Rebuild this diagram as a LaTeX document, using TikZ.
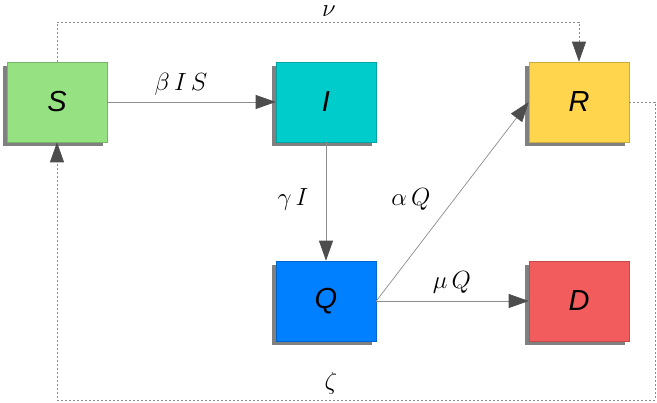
\documentclass[tikz,border=0pt]{standalone}
\usepackage{fontspec}
\newfontfamily\boxfont{Liberation Sans}
\usetikzlibrary{arrows.meta,shadows}
\definecolor{cS}{RGB}{150,226,131}
\definecolor{cI}{RGB}{0,204,204}
\definecolor{cQ}{RGB}{0,128,255}
\definecolor{cR}{RGB}{255,213,77}
\definecolor{cD}{RGB}{242,92,92}
\definecolor{lineg}{RGB}{140,140,140}
\definecolor{tipg}{RGB}{77,77,77}
\definecolor{shad}{RGB}{128,128,128}
\tikzset{
  comp/.style={draw=#1!80!black, fill=#1, line width=0.6pt, minimum width=100pt, minimum height=80pt,
    inner sep=0pt, font=\boxfont\itshape\fontsize{29}{32}\selectfont,
    drop shadow={shadow xshift=-4pt, shadow yshift=-4pt, fill=shad, opacity=1}},
  flow/.style={draw=lineg, line width=0.7pt, -{Triangle[length=20pt,width=14pt,fill=tipg,color=tipg]}},
  dflow/.style={draw=lineg, line width=0.7pt, dash pattern=on 2pt off 2pt, -{Triangle[length=20pt,width=14pt,fill=tipg,color=tipg]}},
  lab/.style={font=\fontsize{28}{30}\selectfont, inner sep=0pt}
}
\begin{document}
\begin{tikzpicture}[x=1pt,y=-1pt]
\useasboundingbox (0,0) rectangle (657,403);
\node[comp=cS] (S) at (57,102) {S};
\node[comp=cI] (I) at (326,102) {I};
\node[comp=cR] (R) at (579,102) {R};
\node[comp=cQ] (Q) at (326,301) {Q};
\node[comp=cD] (D) at (579,301) {D};
\coordinate (n1) at (57,22);
\coordinate (n2) at (579,22);
\coordinate (z1) at (655,102);
\coordinate (z2) at (655,400);
\coordinate (z3) at (57,400);
\draw[flow] (S.east) -- (I.west);
\draw[flow] (I.south) -- (Q.north);
\draw[flow] (Q.east) -- (R.west);
\draw[flow] (Q.east) -- (D.west);
\draw[dflow] (S.north) -- (n1) -- (n2) -- (R.north);
\draw[dflow] (R.east) -- (z1) -- (z2) -- (z3) -- (S.south);
\node[lab] (lbeta) at (181,84) {$\beta\, I\, S$};
\node[lab] (lgamma) at (293,199) {$\gamma\, I$};
\node[lab] (lalpha) at (411,199) {$\alpha\, Q$};
\node[lab] (lmu) at (452,282) {$\mu\, Q$};
\node[lab] (lnu) at (329,11) {$\nu$};
\node[lab] (lzeta) at (331,383) {$\zeta$};
\end{tikzpicture}
\end{document}
